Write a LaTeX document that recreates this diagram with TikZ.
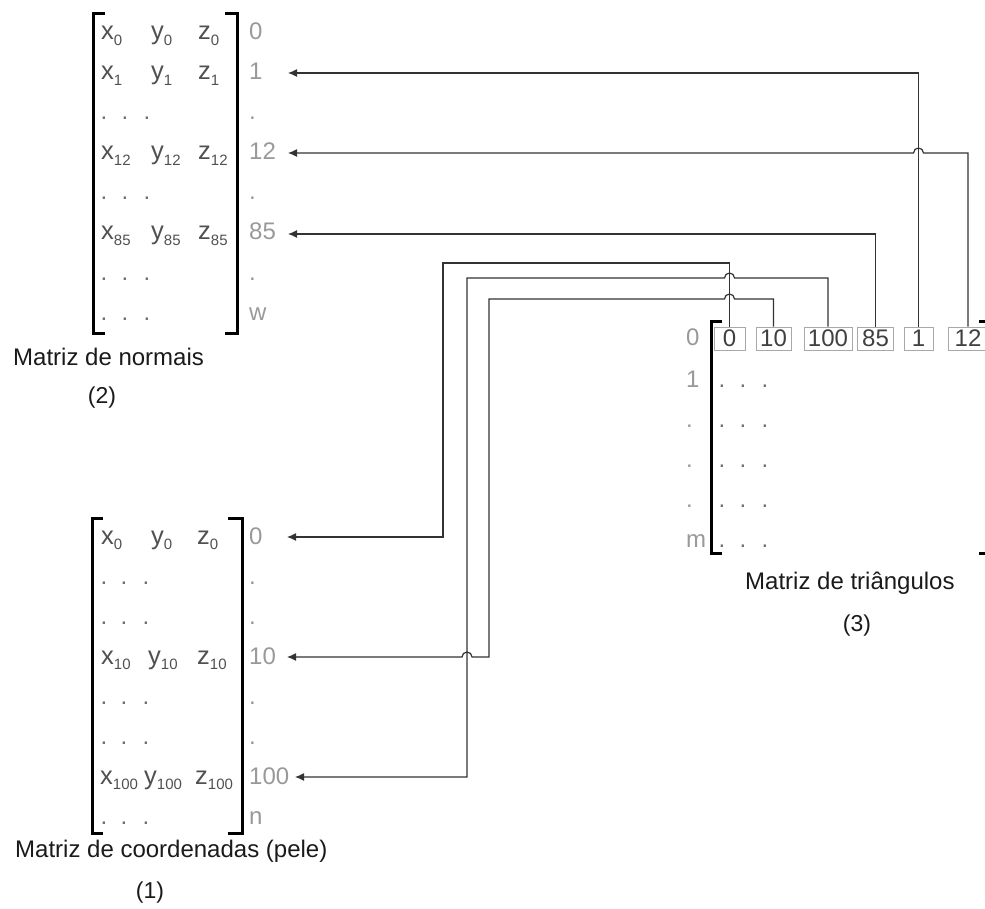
\documentclass[tikz,border=0pt]{standalone}
\usepackage{fontspec}
\setmainfont{Liberation Sans}
\usetikzlibrary{arrows.meta}
\definecolor{entc}{HTML}{505050}
\definecolor{idxc}{HTML}{999999}
\definecolor{dotc}{HTML}{707070}
\definecolor{lnc}{HTML}{333333}
\definecolor{bxb}{HTML}{A8A8A8}
\definecolor{boxt}{HTML}{404040}
\definecolor{lblc}{HTML}{1A1A1A}
\newcommand{\mel}[2]{#1\raisebox{-5.5pt}{\fontsize{15}{15}\selectfont #2}}
\begin{document}
\begin{tikzpicture}[x=1pt,y=-1pt,
  ent/.style={anchor=base west,inner sep=0pt,text=entc,font=\fontsize{25.5}{25.5}\selectfont},
  idx/.style={anchor=base west,inner sep=0pt,text=idxc,font=\fontsize{24}{24}\selectfont},
  mdot/.style={anchor=base,inner sep=0pt,text=dotc,font=\fontsize{24}{24}\selectfont},
  brk/.style={line width=3pt,black},
  conn/.style={draw=lnc,line width=1.2pt},
  arr/.style={conn,-{Latex[length=9pt,width=8pt]}},
  cell/.style={draw=bxb,line width=1pt,minimum height=23pt,inner sep=0pt,text=boxt,font=\fontsize{24}{24}\selectfont},
  title/.style={anchor=base west,inner sep=0pt,text=lblc,font=\fontsize{24}{24}\selectfont},
  num/.style={anchor=base,inner sep=0pt,text=lblc,font=\fontsize{23}{23}\selectfont}]
\useasboundingbox (0,0) rectangle (985,909);
\clip (0,0) rectangle (985,909);

% ---------- Matriz de normais ----------
\draw[brk] (105,14) -- (93,14) -- (93,333) -- (105,333);
\draw[brk] (225,14) -- (237,14) -- (237,333) -- (225,333);
\node[ent] (nx0) at (101,40) {\mel{x}{0}};
\node[ent] (ny0) at (151,40) {\mel{y}{0}};
\node[ent] (nz0) at (198,40) {\mel{z}{0}};
\node[ent] (nx1) at (101,80) {\mel{x}{1}};
\node[ent] (ny1) at (151,80) {\mel{y}{1}};
\node[ent] (nz1) at (198,80) {\mel{z}{1}};
\node[ent] (nx12) at (101,160) {\mel{x}{12}};
\node[ent] (ny12) at (151,160) {\mel{y}{12}};
\node[ent] (nz12) at (198,160) {\mel{z}{12}};
\node[ent] (nx85) at (101,240) {\mel{x}{85}};
\node[ent] (ny85) at (151,240) {\mel{y}{85}};
\node[ent] (nz85) at (198,240) {\mel{z}{85}};
\foreach \yy [count=\i] in {120,200,280,320}{
  \foreach \xx [count=\j] in {104,125,147}{
    \node[mdot] (nd\i\j) at (\xx,\yy) {.};
  }
}
\node[idx] (ni0) at (249,40) {0};
\node[idx] (ni1) at (249,80) {1};
\node[idx] (nia) at (249,120) {.};
\node[idx] (ni12) at (249,160) {12};
\node[idx] (nib) at (249,200) {.};
\node[idx] (ni85) at (249,240) {85};
\node[idx] (nic) at (249,280) {.};
\node[idx] (niw) at (249,320) {w};
\node[title] (tn) at (13,365) {Matriz de normais};
\node[num] (tn2) at (102,403) {(2)};

% ---------- Matriz de coordenadas ----------
\draw[brk] (103,518) -- (92,518) -- (92,833) -- (103,833);
\draw[brk] (228,518) -- (242,518) -- (242,833) -- (228,833);
\node[ent] (cx0) at (101,544) {\mel{x}{0}};
\node[ent] (cy0) at (151,544) {\mel{y}{0}};
\node[ent] (cz0) at (197,544) {\mel{z}{0}};
\node[ent] (cx10) at (101,664) {\mel{x}{10}};
\node[ent] (cy10) at (148,664) {\mel{y}{10}};
\node[ent] (cz10) at (197,664) {\mel{z}{10}};
\node[ent] (cx100) at (100,784) {\mel{x}{100}};
\node[ent] (cy100) at (144,784) {\mel{y}{100}};
\node[ent] (cz100) at (195,784) {\mel{z}{100}};
\foreach \yy [count=\i] in {584,624,704,744,824}{
  \foreach \xx [count=\j] in {104,124,146}{
    \node[mdot] (cd\i\j) at (\xx,\yy) {.};
  }
}
\node[idx] (ci0) at (249,544) {0};
\node[idx] (cia) at (249,584) {.};
\node[idx] (cib) at (249,624) {.};
\node[idx] (ci10) at (249,664) {10};
\node[idx] (cic) at (249,704) {.};
\node[idx] (cid) at (249,744) {.};
\node[idx] (ci100) at (249,784) {100};
\node[idx] (cin) at (249,824) {n};
\node[title] (tc) at (15,857) {Matriz de coordenadas (pele)};
\node[num] (tc1) at (150,898) {(1)};

% ---------- Matriz de triangulos ----------
\draw[brk] (722,321) -- (711,321) -- (711,553) -- (722,553);
\draw[brk] (979,321) -- (992,321);
\draw[brk] (979,553) -- (992,553);
\node[idx] (ti0) at (686,345) {0};
\node[idx] (ti1) at (686,387) {1};
\node[idx] (tia) at (686,427) {.};
\node[idx] (tib) at (686,467) {.};
\node[idx] (tic) at (686,507) {.};
\node[idx] (tim) at (686,547) {m};
\foreach \yy [count=\i] in {387,427,467,507,547}{
  \foreach \xx [count=\j] in {722,743,765}{
    \node[mdot] (td\i\j) at (\xx,\yy) {.};
  }
}
\node[cell,minimum width=31pt] (b0) at (729.5,338.5) {0};
\node[cell,minimum width=35pt] (b10) at (773.5,338.5) {10};
\node[cell,minimum width=48pt] (b100) at (828,338.5) {100};
\node[cell,minimum width=36pt] (b85) at (875.5,338.5) {85};
\node[cell,minimum width=29pt] (b1) at (918.5,338.5) {1};
\node[cell,minimum width=40pt] (b12) at (968,338.5) {12};
\node[title] (tt) at (745,589) {Matriz de triângulos};
\node[num] (tt3) at (857,631) {(3)};

% ---------- connectors ----------
\coordinate (a1) at (288,73);
\coordinate (a12) at (288,153);
\coordinate (a85) at (288,234);
\coordinate (a0) at (287,537);
\coordinate (a10) at (287,657);
\coordinate (a100) at (295,777);
\coordinate (k0) at (443,263);
\coordinate (k100) at (467,278);
\coordinate (k10) at (489,299);
\coordinate (h12) at (b1.north |- a12);
\coordinate (h100) at (b0.north |- k100);
\coordinate (h10) at (b0.north |- k10);
\coordinate (h10b) at (k100 |- a10);

\draw[arr] (b1.north) |- (a1);
\draw[arr] (b12.north) |- ([xshift=5pt]h12) arc[start angle=0,end angle=180,radius=5pt] -- (a12);
\draw[arr] (b85.north) |- (a85);
\draw[arr] (b0.north) |- (k0) |- (a0);
\draw[arr] (b100.north) |- ([xshift=5pt]h100) arc[start angle=0,end angle=180,radius=5pt] -- (k100) |- (a100);
\draw[arr] (b10.north) |- ([xshift=5pt]h10) arc[start angle=0,end angle=180,radius=5pt] -- (k10) |- ([xshift=5pt]h10b) arc[start angle=0,end angle=180,radius=5pt] -- (a10);
\end{tikzpicture}
\end{document}
